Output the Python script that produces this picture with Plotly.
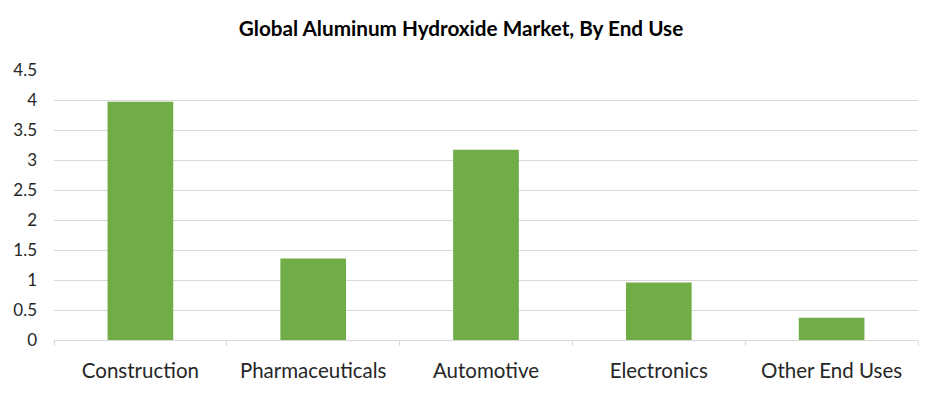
import plotly.graph_objects as go

categories = ["Construction", "Pharmaceuticals", "Automotive", "Electronics", "Other End Uses"]
values = [3.97, 1.36, 3.17, 0.96, 0.37]
y_ticks = [0, 0.5, 1, 1.5, 2, 2.5, 3, 3.5, 4, 4.5]
y_tick_labels = ["0", "0.5", "1", "1.5", "2", "2.5", "3", "3.5", "4", "4.5"]

FONT = "Lato"

fig = go.Figure(go.Bar(x=categories, y=values, marker=dict(color="#70ad47", line=dict(width=0)), width=0.38))

fig.update_layout(
    width=941, height=397,
    paper_bgcolor="white", plot_bgcolor="white",
    margin=dict(l=54, r=23, t=70, b=57),
    title=dict(text="<b>Global Aluminum Hydroxide Market, By End Use</b>", xref="container", x=461 / 941,
               xanchor="center", yref="container", y=1 - 29 / 397, yanchor="middle",
               font=dict(family=FONT, size=20.7, color="black")),
    showlegend=False,
    bargap=0.62,
)
fig.update_xaxes(
    showgrid=False, showline=True, linecolor="#d9d9d9", linewidth=1, automargin=False,
    ticks="outside", tickson="boundaries", ticklen=5, tickcolor="#d9d9d9",
    tickfont=dict(family=FONT, size=20.5, color="#262626"), ticklabelstandoff=12,
)
fig.update_yaxes(
    range=[0, 4.5], tickvals=y_ticks, ticktext=y_tick_labels, automargin=False,
    showgrid=True, gridcolor="#d9d9d9", gridwidth=1, zeroline=False, showline=False,
    tickfont=dict(family=FONT, size=17, color="#262626"), ticklabelstandoff=16,
)

fig.write_html("out.html", config={"displayModeBar": False},
               post_script="document.body.style.margin='0';document.body.style.overflow='hidden';")
